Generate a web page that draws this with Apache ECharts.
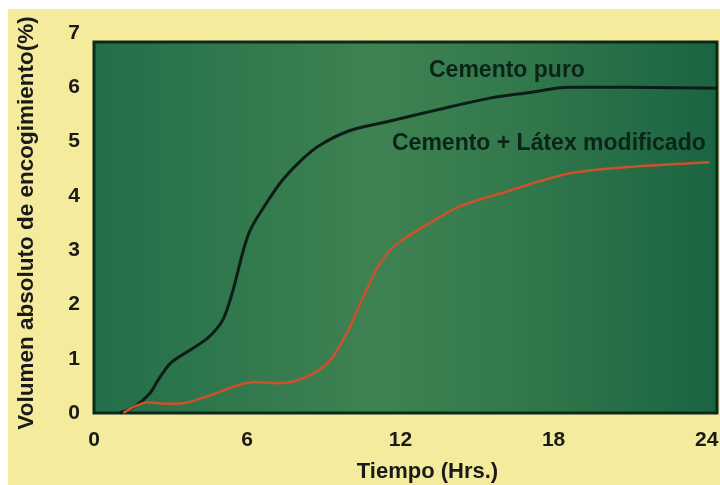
<!DOCTYPE html>
<html lang="es" style="height: 100%">
<head>
    <meta charset="UTF-8">
    <title>Volumen absoluto de encogimiento</title>
    <script src="https://cdn.jsdelivr.net/npm/echarts@6/dist/echarts.min.js"></script>
</head>
<body style="height: 100%; margin: 0; background: #ffffff">
<div id="main" style="position: absolute; left: 8px; top: 9px; width: 712px; height: 476px"></div>
<script>
    // tiempo (h) y encogimiento (%)
    var horasPuro = [1.0, 1.6, 2.2, 2.5, 3.0, 3.8, 4.5, 5.05, 5.45, 5.85, 6.15, 6.8, 7.4, 8.1, 8.8, 10.0, 11.6, 13.4, 15.5, 17.0, 18.6, 20.9, 24.4];
    var valoresPuro = [0, 0.12, 0.37, 0.6, 0.92, 1.17, 1.4, 1.72, 2.27, 3.0, 3.4, 3.9, 4.3, 4.65, 4.92, 5.2, 5.38, 5.58, 5.8, 5.9, 6.0, 6.0, 5.98];
    var horasLatex = [1.15, 1.5, 2.1, 2.8, 3.5, 4.4, 5.7, 6.3, 7.2, 7.8, 8.6, 9.25, 9.9, 10.55, 11.2, 11.9, 12.8, 14.3, 16.3, 18.6, 20.9, 24.1];
    var valoresLatex = [0, 0.1, 0.2, 0.17, 0.18, 0.3, 0.52, 0.57, 0.55, 0.58, 0.73, 0.97, 1.47, 2.14, 2.76, 3.13, 3.4, 3.8, 4.1, 4.41, 4.53, 4.62];
    var xTicks = [0, 6, 12, 18, 24];
    var seriesNames = ['Cemento puro', 'Cemento + Látex modificado'];

    function pares(xs, ys) {
        return xs.map(function (x, i) { return [x, ys[i]]; });
    }

    var font = 'Liberation Sans, Arial, sans-serif';
    var myChart = echarts.init(document.getElementById('main'));
    var option = {
        backgroundColor: '#f4eb9c',
        animation: false,
        grid: {left: 86, right: 3, top: 24, bottom: 72, outerBoundsMode: 'none'},
        graphic: [
            {
                type: 'rect', z: 0, silent: true,
                shape: {x: 86, y: 33, width: 623, height: 371},
                style: {
                    fill: new echarts.graphic.LinearGradient(0, 0, 1, 0, [
                        {offset: 0, color: '#236e49'},
                        {offset: 0.45, color: '#3f8252'},
                        {offset: 0.65, color: '#347a4d'},
                        {offset: 1, color: '#1b6441'}
                    ]),
                    stroke: '#0b2a1c', lineWidth: 3
                }
            },
            {
                type: 'text', z: 3, left: 421, top: 50,
                style: {text: seriesNames[0], font: 'bold 23px ' + font, fill: '#0a2418'}
            },
            {
                type: 'text', z: 3, left: 384, top: 123,
                style: {text: seriesNames[1], font: 'bold 23px ' + font, fill: '#0a2418'}
            }
        ],
        xAxis: {
            type: 'value', min: 0, max: 24.4, interval: 6,
            name: 'Tiempo (Hrs.)', nameLocation: 'middle', nameGap: 48,
            nameTextStyle: {fontFamily: font, fontWeight: 'bold', fontSize: 22, color: '#1a1a1a', padding: [0, 0, 0, 44]},
            axisLine: {show: false}, axisTick: {show: false}, splitLine: {show: false},
            axisLabel: {
                margin: 17, fontFamily: font, fontWeight: 'bold', fontSize: 21, color: '#1a1a1a',
                formatter: function (v) { return xTicks.indexOf(v) >= 0 ? String(v) : ''; }
            }
        },
        yAxis: {
            type: 'value', min: 0, max: 7, interval: 1,
            name: 'Volumen absoluto de encogimiento(%)', nameLocation: 'middle', nameGap: 56,
            nameTextStyle: {fontFamily: font, fontWeight: 'bold', fontSize: 22.5, color: '#1a1a1a'},
            axisLine: {show: false}, axisTick: {show: false}, splitLine: {show: false},
            axisLabel: {margin: 14, fontFamily: font, fontWeight: 'bold', fontSize: 21, color: '#1a1a1a'}
        },
        series: [
            {
                name: seriesNames[0], type: 'line', smooth: 0.3, symbol: 'none', z: 4,
                lineStyle: {color: '#0c1d18', width: 3},
                data: pares(horasPuro, valoresPuro)
            },
            {
                name: seriesNames[1], type: 'line', smooth: 0.3, symbol: 'none', z: 4,
                lineStyle: {color: '#cc522c', width: 2.5},
                data: pares(horasLatex, valoresLatex)
            }
        ]
    };
    myChart.setOption(option);
</script>
</body>
</html>
